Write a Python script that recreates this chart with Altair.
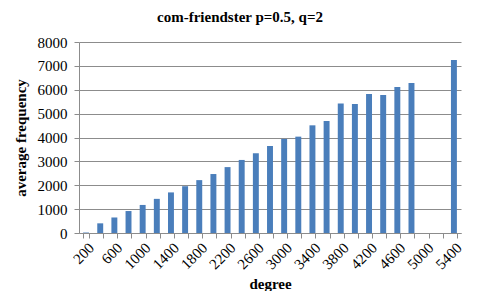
import altair as alt
import pandas as pd

degrees = [200, 400, 600, 800, 1000, 1200, 1400, 1600, 1800, 2000, 2200, 2400, 2600,
           2800, 3000, 3200, 3400, 3600, 3800, 4000, 4200, 4400, 4600, 4800, 5000,
           5200, 5400]
avg_freq = [20, 405, 650, 920, 1175, 1430, 1700, 1960, 2215, 2470, 2760, 3060, 3340,
            3645, 3940, 4036, 4510, 4690, 5420, 5405, 5824, 5782, 6117, 6285, None,
            None, 7250]
y_ticks = [0, 1000, 2000, 3000, 4000, 5000, 6000, 7000, 8000]

df = pd.DataFrame({"degree": degrees, "freq": avg_freq})

FONT = "Liberation Serif"
GRID = "#8c8c8c"
common = dict(labelFont=FONT, labelFontSize=15, labelColor="black",
              labelFontWeight="normal",
              titleFont=FONT, titleFontSize=15, titleFontWeight="bold",
              titleColor="black", domainColor=GRID, tickColor=GRID)

chart = alt.Chart(df).mark_bar(color="#4a7ebb").encode(
    x=alt.X("degree:O", sort=degrees,
            scale=alt.Scale(paddingInner=0.58, paddingOuter=0.29),
            axis=alt.Axis(title="degree", labelAngle=-45, labelAlign="right",
                          labelBaseline="top",
                          labelExpr="datum.value % 400 == 200 ? datum.label : ''",
                          labelOverlap=False, tickBand="extent", tickSize=5,
                          labelPadding=2, titleY=55, titleBaseline="alphabetic",
                          grid=False, **common)),
    y=alt.Y("freq:Q", scale=alt.Scale(domain=[0, 8000], nice=False),
            axis=alt.Axis(title="average frequency", values=y_ticks, format="d",
                          tickSize=5, labelPadding=7, titlePadding=9,
                          gridColor=GRID, **common)),
).properties(
    width=382, height=191,
    title=alt.TitleParams("com-friendster p=0.5, q=2", font=FONT, fontSize=15,
                          fontWeight="bold", color="black", offset=10,
                          anchor="start", frame="group", dx=78),
    padding={"left": 71, "top": 34, "right": 11, "bottom": 58},
    autosize=alt.AutoSizeParams(type="none"),
).configure(font=FONT).configure_view(stroke=None).configure_axis(
    gridOpacity=1, domainOpacity=1, labelFont=FONT, labelFontSize=15)

chart.save("out.html", embed_options={"renderer": "svg", "actions": False})
